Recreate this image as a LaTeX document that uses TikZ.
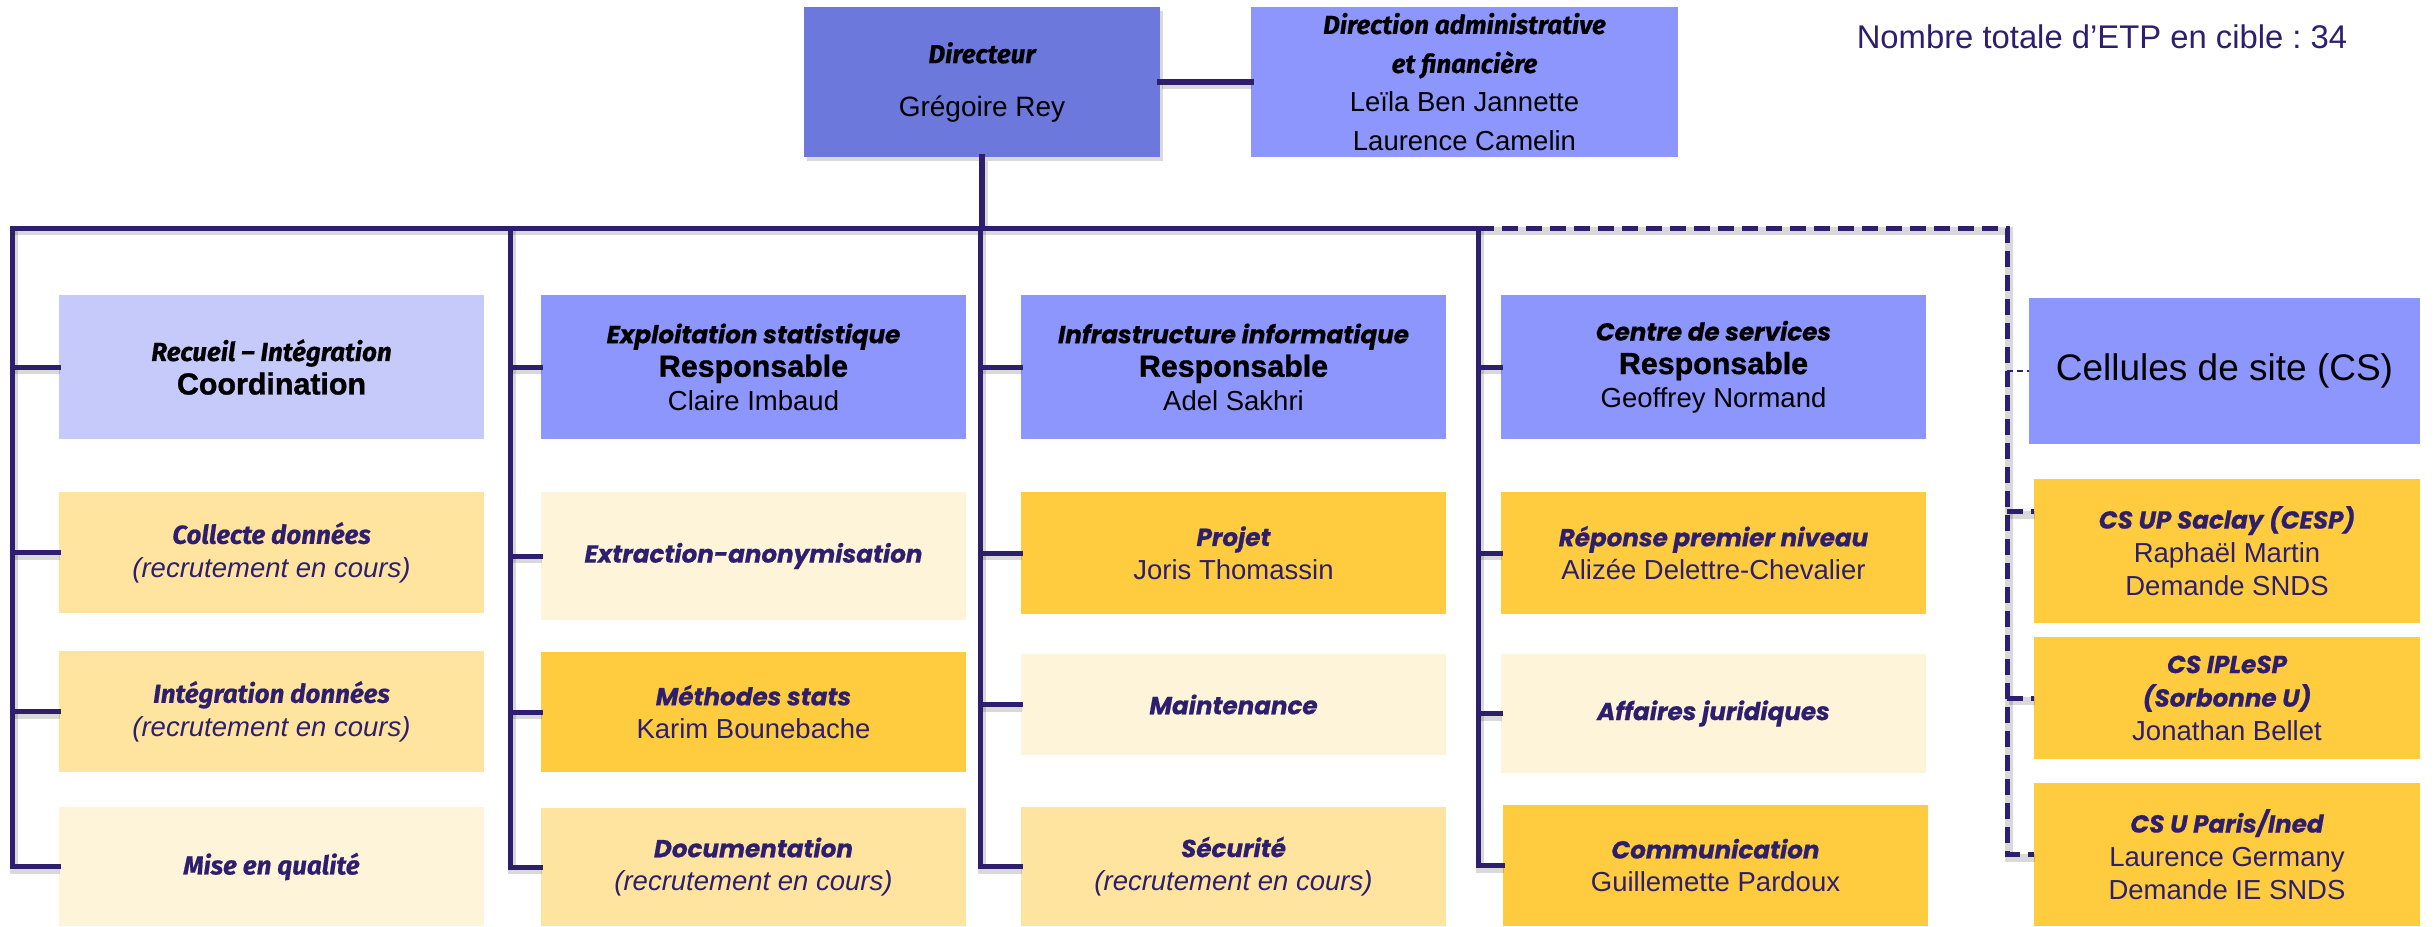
\documentclass[tikz,border=0pt]{standalone}
\usepackage{fontspec}
\setmainfont{Liberation Sans}
\newfontfamily\fira{Fira Sans}[BoldItalicFeatures={FakeBold=0.6}]
\newfontfamily\pop{Poppins}[BoldItalicFeatures={FakeBold=0.6}]
\newfontfamily\blk{Liberation Sans}[BoldFeatures={FakeBold=1.2}]
\usetikzlibrary{calc,shadows}
\definecolor{lc}{RGB}{46,30,110}
\definecolor{dirc}{RGB}{108,120,220}
\definecolor{bluec}{RGB}{140,150,252}
\definecolor{lavc}{RGB}{197,202,250}
\definecolor{goldc}{RGB}{255,204,64}
\definecolor{ylwc}{RGB}{254,228,158}
\definecolor{crmc}{RGB}{254,244,218}
\definecolor{txc}{RGB}{46,30,110}
\newcommand\HF[1]{{\fira\bfseries\itshape\fontsize{13}{13}\selectfont #1}}
\newcommand\HP[1]{{\pop\bfseries\itshape\fontsize{12.3}{12.3}\selectfont #1}}
\newcommand\RB[1]{{\blk\bfseries\fontsize{15.2}{15.2}\selectfont #1}}
\newcommand\RC[1]{{\itshape #1}}
\frenchspacing
\tikzset{
  box/.style={rectangle, inner sep=0pt, align=center, minimum width=212.5pt,
    font=\fontsize{13.75}{16.75}\selectfont},
  bluebox/.style={box, fill=bluec, text=black},
  goldbox/.style={box, fill=goldc, text=txc},
  ylwbox/.style={box, fill=ylwc, text=txc},
  crmbox/.style={box, fill=crmc, text=txc},
  csbox/.style={goldbox, minimum width=193pt},
  shad/.style={preaction={draw=black, draw opacity=0.15, line width=4pt,
    transform canvas={shift={(0.8pt,-1.6pt)}}}},
  conn/.style={draw=lc, line width=2.5pt, line cap=rect, line join=miter, shad},
  dconn/.style={draw=lc, line width=2.5pt, dash pattern=on 8pt off 4pt, shad},
  tconn/.style={draw=lc, line width=0.6pt, dash pattern=on 3pt off 2pt},
}
\begin{document}
\begin{tikzpicture}[x=0.5pt, y=-0.5pt]
\useasboundingbox (0,0) rectangle (2434,926);
% top
\node[box, fill=dirc, text=black, minimum width=178pt, minimum height=75pt,
  font=\fontsize{14}{26.5}\selectfont,
  drop shadow={shadow xshift=1.5pt, shadow yshift=-2pt, opacity=0.3}] (dir) at (982,82)
  {\HF{Directeur}\\Grégoire Rey};
\node[bluebox, minimum width=213.5pt, minimum height=75pt,
  font=\fontsize{13.75}{19.5}\selectfont] (daf) at (1464.5,82)
  {\HF{Direction administrative}\\\HF{et financière}\\Leïla Ben Jannette\\Laurence Camelin};
\node[text=txc, inner sep=0pt, font=\fontsize{16.4}{20}\selectfont] (etp) at (2102,37)
  {Nombre totale d’ETP en cible : 34};
% headers
\node[box, fill=lavc, text=black, minimum height=72pt] (rec) at (271.5,367)
  {\HF{Recueil – Intégration}\\\RB{Coordination}};
\node[bluebox, minimum height=72pt] (exp) at (753.5,367)
  {\HP{Exploitation statistique}\\\RB{Responsable}\\Claire Imbaud};
\node[bluebox, minimum height=72pt] (inf) at (1233.5,367)
  {\HP{Infrastructure informatique}\\\RB{Responsable}\\Adel Sakhri};
\node[bluebox, minimum height=72pt] (cds) at (1713.5,367)
  {\HP{Centre de services}\\\RB{Responsable}\\Geoffrey Normand};
\node[bluebox, minimum width=195.5pt, minimum height=73pt,
  font=\fontsize{18.5}{20}\selectfont] (cel) at (2224.5,371)
  {Cellules de site (CS)};
% column 1
\node[ylwbox, minimum height=60.5pt] (col) at (271.5,552.5)
  {\HF{Collecte données}\\\RC{(recrutement en cours)}};
\node[ylwbox, minimum height=60.5pt] (int) at (271.5,711.5)
  {\HF{Intégration données}\\\RC{(recrutement en cours)}};
\node[crmbox, minimum height=59.5pt] (mis) at (271.5,866.5)
  {\HF{Mise en qualité}};
% column 2
\node[crmbox, minimum height=64pt] (ext) at (753.5,556)
  {\HP{Extraction-anonymisation}};
\node[goldbox, minimum height=60pt] (met) at (753.5,712)
  {\HP{Méthodes stats}\\Karim Bounebache};
\node[ylwbox, minimum height=59pt] (doc) at (753.5,867)
  {\HP{Documentation}\\\RC{(recrutement en cours)}};
% column 3
\node[goldbox, minimum height=61pt] (pro) at (1233.5,553)
  {\HP{Projet}\\Joris Thomassin};
\node[crmbox, minimum height=50.5pt] (mai) at (1233.5,704.5)
  {\HP{Maintenance}};
\node[ylwbox, minimum height=59.5pt] (sec) at (1233.5,866.5)
  {\HP{Sécurité}\\\RC{(recrutement en cours)}};
% column 4
\node[goldbox, minimum height=61pt] (rep) at (1713.5,553)
  {\HP{Réponse premier niveau}\\Alizée Delettre-Chevalier};
\node[crmbox, minimum height=59.5pt] (aff) at (1713.5,713.5)
  {\HP{Affaires juridiques}};
\node[goldbox, minimum height=60.5pt] (com) at (1715.5,865.5)
  {\HP{Communication}\\Guillemette Pardoux};
% cellules
\node[csbox, minimum height=72pt] (sac) at (2227,551)
  {\HP{CS UP Saclay (CESP)}\\Raphaël Martin\\Demande SNDS};
\node[csbox, minimum height=61pt] (ipl) at (2227,698)
  {\HP{CS IPLeSP}\\\HP{(Sorbonne U)}\\Jonathan Bellet};
\node[csbox, minimum height=71.5pt] (par) at (2227,854.5)
  {\HP{CS U Paris/Ined}\\Laurence Germany\\Demande IE SNDS};
% connectors
\coordinate (b1) at (12,228);
\coordinate (b2) at (510,228);
\coordinate (b3) at (980,228);
\coordinate (b4) at (1478,228);
\coordinate (bR) at (2007,228);
\draw[conn, line width=3pt] (dir.east) -- (daf.west);
\draw[conn, line width=3pt] (dir.south) -- (dir.south |- b1);
\draw[conn] (b1) -- (b4);
\draw[conn] (b1) |- (mis.west);
\draw[conn] (b2) |- (doc.west);
\draw[conn] (b3) |- (sec.west);
\draw[conn] (b4) |- (com.west);
\foreach \n/\b in {rec/b1,col/b1,int/b1,exp/b2,ext/b2,met/b2,inf/b3,pro/b3,mai/b3,cds/b4,rep/b4,aff/b4}
  \draw[conn] (\b |- \n.west) -- (\n.west);
\coordinate (sacin) at ($(sac.north west)!0.23!(sac.south west)$);
\draw[dconn] (b4) -- (bR) |- (par.west);
\draw[dconn] (bR |- sacin) -- (sacin);
\draw[dconn] (bR |- ipl.west) -- (ipl.west);
\draw[tconn] (bR |- cel.west) -- (cel.west);
\end{tikzpicture}
\end{document}
